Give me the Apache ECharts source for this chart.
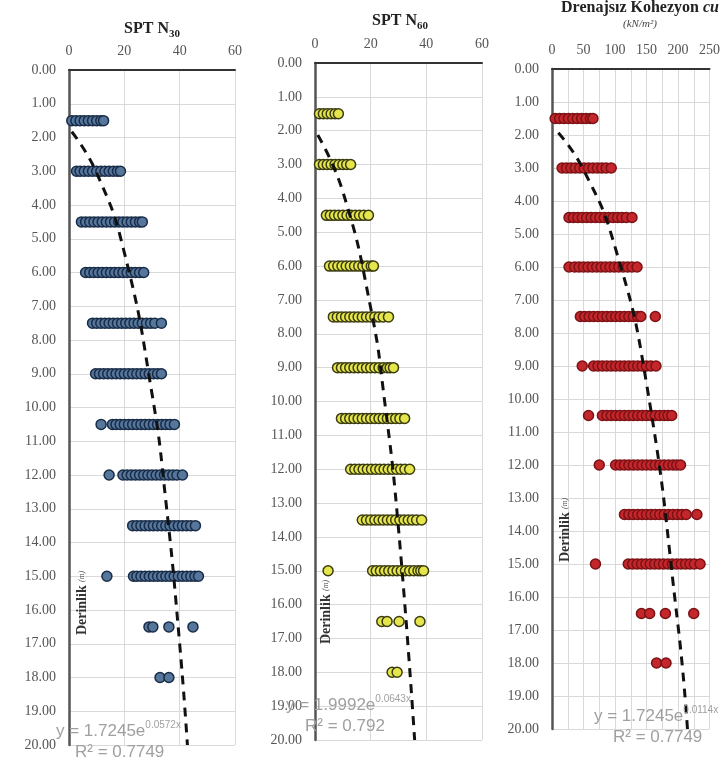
<!DOCTYPE html>
<html>
<head>
<meta charset="utf-8">
<script src="https://cdn.jsdelivr.net/npm/echarts@6/dist/echarts.min.js"></script>
<style>
  html, body { margin: 0; padding: 0; background: #fff; }
  #chart { width: 723px; height: 768px; }
</style>
</head>
<body>
<div id="chart"></div>
<script>
// derinlik seviyeleri (m)
const depths = [1.5, 3, 4.5, 6, 7.5, 9, 10.5, 12, 13.5, 15, 16.5, 18];

// SPT N30 degerleri, her derinlik icin
const n30Values = [
  [1, 2.5, 4, 5.5, 7, 8.5, 10, 11.5, 12.5],
  [2.7, 4, 5.5, 7, 8.5, 10, 11.5, 13, 14.5, 16, 17.5, 18.6],
  [4.5, 6, 7.5, 9, 10.5, 12, 13.5, 15, 16.5, 18, 19.5, 21, 22.5, 24, 25.5, 26.5],
  [6, 7.5, 9, 10.5, 12, 13.5, 15, 16.5, 18, 19.5, 21, 22.5, 24, 25.5, 27],
  [8.5, 10, 11.5, 13, 14.5, 16, 17.5, 19, 20.5, 22, 23.5, 25, 26.5, 28, 29.5, 31, 33.4],
  [9.6, 11, 12.5, 14, 15.5, 17, 18.5, 20, 21.5, 23, 24.5, 26, 27.5, 29, 30.5, 32, 33.4],
  [11.6, 15.7, 17, 18.5, 20, 21.5, 23, 24.5, 26, 27.5, 29, 30.5, 32, 33.5, 35, 36.5, 38.1],
  [14.5, 19.5, 21, 22.5, 24, 25.5, 27, 28.5, 30, 31.5, 33, 34.5, 36, 37.5, 39, 41],
  [23, 24.5, 26, 27.5, 29, 30.5, 32, 33.5, 35, 36.5, 38, 39.5, 41, 42.5, 44, 45.7],
  [13.7, 23.3, 24.5, 26, 27.5, 29, 30.5, 32, 33.5, 35, 36.5, 38, 39.5, 41, 42.5, 44, 45.5, 46.8],
  [28.9, 30.3, 36.1, 44.8],
  [32.9, 36.1]
];

// SPT N60 degerleri
const n60Values = [
  [1.6, 3, 4.4, 5.8, 7.2, 8.4],
  [1.6, 3, 4.4, 5.8, 7.2, 8.6, 10, 11.4, 12.8],
  [4.1, 5.5, 7, 8.5, 10, 11.5, 13, 14.5, 16, 17.5, 19.2],
  [5.2, 6.7, 8.2, 9.7, 11.2, 12.7, 14.2, 15.7, 17.2, 18.7, 20.2, 21],
  [6.6, 8, 9.5, 11, 12.5, 14, 15.5, 17, 18.5, 20, 21.5, 23, 24.5, 26.4],
  [8.1, 9.5, 11, 12.5, 14, 15.5, 17, 18.5, 20, 21.5, 23, 24.5, 26, 27, 28.2],
  [9.5, 11, 12.5, 14, 15.5, 17, 18.5, 20, 21.5, 23, 24.5, 26, 27.5, 29, 30.5, 32.2],
  [12.8, 14.3, 15.8, 17.3, 18.8, 20.3, 21.8, 23.3, 24.8, 26.3, 27.8, 29.3, 30.8, 32.3, 34],
  [17, 18.5, 20, 21.5, 23, 24.5, 26, 27.5, 29, 30.5, 32, 33.5, 35, 36.5, 38.3],
  [4.7, 20.7, 22, 23.5, 25, 26.5, 28, 29.5, 31, 32.5, 34, 35.5, 37, 38, 39],
  [24, 25.9, 30.2, 37.7],
  [27.7, 29.5]
];

// drenajsiz kohezyon cu (kN/m2)
const cuValues = [
  [5, 12, 19, 26, 33, 40, 47, 54, 61, 65],
  [16, 23, 30, 37, 44, 51, 58, 65, 72, 79, 86, 94],
  [27, 34, 41, 48, 55, 62, 69, 76, 83, 90, 97, 104, 111, 118, 127],
  [27, 36, 43, 50, 57, 64, 71, 78, 85, 92, 99, 106, 113, 120, 127, 135],
  [45, 52, 59, 66, 73, 80, 87, 94, 101, 108, 115, 122, 129, 136, 141, 164],
  [48, 66, 73, 80, 87, 94, 101, 108, 115, 122, 129, 136, 143, 150, 157, 165],
  [58, 80, 87, 94, 101, 108, 115, 122, 129, 136, 143, 150, 157, 164, 171, 178, 184, 190],
  [75, 101, 108, 115, 122, 129, 136, 143, 150, 157, 164, 171, 178, 185, 192, 198, 204],
  [115, 122, 129, 136, 143, 150, 157, 164, 171, 178, 185, 192, 199, 206, 213, 230],
  [69, 121, 128, 135, 142, 149, 156, 163, 170, 177, 184, 191, 198, 205, 212, 219, 226, 235],
  [142, 155, 180, 225],
  [166, 181]
];

// trend cizgileri (resimden okunan noktalar)
const n30TrendX = [1, 10, 20, 30, 35, 40, 42.8];
const n30TrendDepth = [1.83, 3.05, 5.41, 9.59, 12.77, 17.0, 20.0];
const n60TrendX = [1, 10, 20, 25, 30, 35.8];
const n60TrendDepth = [2.13, 3.8, 7.23, 9.98, 13.76, 20.0];
const cuTrendX = [10, 50, 100, 150, 200, 215];
const cuTrendDepth = [1.93, 3.05, 5.39, 9.53, 16.86, 20.0];

const serif = 'Liberation Serif';
const gridColor = '#d9d9d9';
const eqFont = 'Liberation Sans';
const eqColor = '#a0a0a0';

function toPoints(values) {
  let pts = [];
  values.forEach((row, i) => {
    row.forEach(v => pts.push([v, depths[i]]));
  });
  return pts;
}
function zip(xs, ys) {
  return xs.map((x, i) => [x, ys[i]]);
}

function makeX(idx, max, interval, minor) {
  return {
    gridIndex: idx,
    type: 'value',
    position: 'top',
    min: 0,
    max: max,
    interval: interval,
    axisLine: {show: true, onZero: false, lineStyle: {color: '#333', width: 2}},
    axisTick: {show: false},
    axisLabel: {fontFamily: serif, fontSize: 14, color: '#555', margin: 12},
    splitLine: {show: true, lineStyle: {color: gridColor, width: 1}},
    minorTick: {show: false, splitNumber: 2},
    minorSplitLine: {show: minor, lineStyle: {color: gridColor, width: 1}}
  };
}
function makeY(idx) {
  return {
    gridIndex: idx,
    type: 'value',
    inverse: true,
    min: 0,
    max: 20,
    interval: 1,
    axisLine: {show: true, onZero: false, lineStyle: {color: '#555', width: 2.5}},
    axisTick: {show: false},
    axisLabel: {
      fontFamily: serif, fontSize: 14, color: '#555', margin: 13,
      formatter: v => v.toFixed(2)
    },
    splitLine: {show: true, lineStyle: {color: gridColor, width: 1}}
  };
}

function scatter(idx, values, fill, border) {
  return {
    type: 'scatter',
    xAxisIndex: idx,
    yAxisIndex: idx,
    symbolSize: 10,
    itemStyle: {color: fill, borderColor: border, borderWidth: 1.5, opacity: 1},
    data: toPoints(values)
  };
}
function trend(idx, xs, ys) {
  return {
    type: 'line',
    xAxisIndex: idx,
    yAxisIndex: idx,
    smooth: true,
    showSymbol: false,
    z: 5,
    lineStyle: {color: '#111', width: 3, type: [9, 7]},
    data: zip(xs, ys)
  };
}

function derinlik(x, y) {
  return {
    type: 'text', x: x, y: y, rotation: Math.PI / 2, z: 10,
    style: {
      text: '{b|Derinlik} {m|(m)}',
      align: 'center', verticalAlign: 'middle',
      rich: {
        b: {fontFamily: serif, fontWeight: 'bold', fontSize: 14, fill: '#333'},
        m: {fontFamily: serif, fontStyle: 'italic', fontSize: 8, fill: '#555'}
      }
    }
  };
}
function regression(x, y, base, exp, r2) {
  return [{
    type: 'text', x: x, y: y, z: 10,
    style: {
      text: '{t|' + base + '}{s|' + exp + '}',
      align: 'left', verticalAlign: 'middle',
      rich: {
        t: {fontFamily: eqFont, fontSize: 17, fill: eqColor, lineHeight: 22, verticalAlign: 'middle'},
        s: {fontFamily: eqFont, fontSize: 10, fill: eqColor, lineHeight: 12, verticalAlign: 'top'}
      }
    }
  }, {
    type: 'text', x: x + 19, y: y + 21, z: 10,
    style: {
      text: r2, align: 'left', verticalAlign: 'middle',
      fontFamily: eqFont, fontSize: 17, fill: eqColor
    }
  }];
}
function subTitle(x, y, main, sub) {
  return {
    type: 'text', x: x, y: y,
    style: {
      text: '{b|' + main + '}{s|' + sub + '}',
      align: 'center', verticalAlign: 'middle',
      rich: {
        b: {fontFamily: serif, fontWeight: 'bold', fontSize: 16, fill: '#222', lineHeight: 22, verticalAlign: 'middle'},
        s: {fontFamily: serif, fontWeight: 'bold', fontSize: 11, fill: '#222', lineHeight: 12, verticalAlign: 'bottom'}
      }
    }
  };
}

const myChart = echarts.init(document.getElementById('chart'));
const options = {
  backgroundColor: '#fff',
  animation: false,
  grid: [
    {left: 69, top: 70, width: 166, height: 675},
    {left: 315, top: 63, width: 167, height: 677},
    {left: 552, top: 69, width: 160, height: 660}
  ],
  xAxis: [makeX(0, 60, 20, false), makeX(1, 60, 20, false), makeX(2, 250, 50, true)],
  yAxis: [makeY(0), makeY(1), makeY(2)],
  series: [
    scatter(0, n30Values, '#56769c', '#182c47'),
    trend(0, n30TrendX, n30TrendDepth),
    scatter(1, n60Values, '#e4e64c', '#3b3b12'),
    trend(1, n60TrendX, n60TrendDepth),
    scatter(2, cuValues, '#c3262b', '#7c1215'),
    trend(2, cuTrendX, cuTrendDepth)
  ],
  graphic: [
    subTitle(152, 29, 'SPT N', '30'),
    subTitle(400, 21, 'SPT N', '60'),
    {
      type: 'text', x: 640, y: 8,
      style: {
        text: '{b|Drenajsız Kohezyon }{i|cu}',
        align: 'center', verticalAlign: 'middle',
        rich: {
          b: {fontFamily: serif, fontWeight: 'bold', fontSize: 16, fill: '#222'},
          i: {fontFamily: serif, fontWeight: 'bold', fontStyle: 'italic', fontSize: 16, fill: '#222'}
        }
      }
    },
    {
      type: 'text', x: 640, y: 24,
      style: {
        text: '(kN/m²)', align: 'center', verticalAlign: 'middle',
        fontFamily: serif, fontStyle: 'italic', fontSize: 11, fill: '#444'
      }
    },
    derinlik(82, 603),
    derinlik(326, 612),
    derinlik(565, 530),
    ...regression(56, 731, 'y = 1.7245e', '0.0572x', 'R² = 0.7749'),
    ...regression(286, 705, 'y = 1.9992e', '0.0643x', 'R² = 0.792'),
    ...regression(594, 716, 'y = 1.7245e', '0.0114x', 'R² = 0.7749')
  ]
};
myChart.setOption(options);
</script>
</body>
</html>
